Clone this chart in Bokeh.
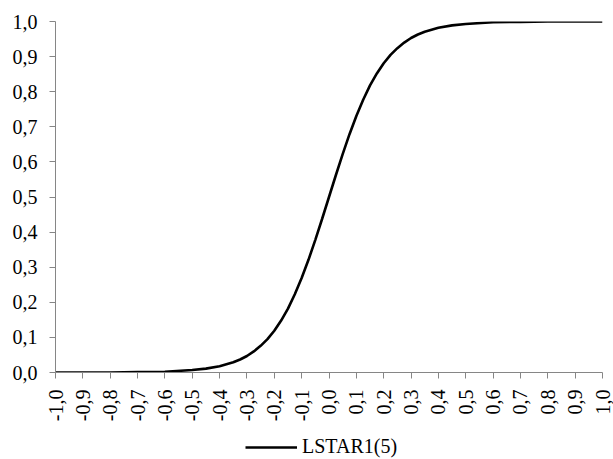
import math
from bokeh.plotting import figure
from bokeh.layouts import column
from bokeh.models import Range1d, FixedTicker, CustomJSTickFormatter, Legend, LegendItem
from bokeh.embed import file_html
from bokeh.resources import INLINE

# transition variable s and LSTAR1(5) transition function values
s_values = [-1.0, -0.9, -0.8, -0.7, -0.6, -0.5, -0.45, -0.4, -0.35, -0.325, -0.3,
            -0.275, -0.25, -0.225, -0.2, -0.175, -0.15, -0.125, -0.1, -0.075, -0.05,
            -0.025, 0.0, 0.025, 0.05, 0.075, 0.1, 0.125, 0.15, 0.175, 0.2, 0.225,
            0.25, 0.275, 0.3, 0.325, 0.35, 0.4, 0.45, 0.5, 0.6, 0.7, 0.8, 0.9, 1.0]
lstar_values = [0.000, 0.000, 0.000, 0.001, 0.002, 0.007, 0.011, 0.018, 0.029, 0.037, 0.047,
                0.060, 0.076, 0.095, 0.119, 0.148, 0.182, 0.223, 0.269, 0.321, 0.378,
                0.438, 0.500, 0.562, 0.622, 0.679, 0.731, 0.777, 0.818, 0.852, 0.881, 0.905,
                0.924, 0.940, 0.953, 0.963, 0.971, 0.982, 0.989, 0.993, 0.998, 0.999, 1.000, 1.000, 1.000]
series_name = "LSTAR1(5)"
x_ticks = [-1.0, -0.9, -0.8, -0.7, -0.6, -0.5, -0.4, -0.3, -0.2, -0.1, 0.0,
           0.1, 0.2, 0.3, 0.4, 0.5, 0.6, 0.7, 0.8, 0.9, 1.0]
y_ticks = [0.0, 0.1, 0.2, 0.3, 0.4, 0.5, 0.6, 0.7, 0.8, 0.9, 1.0]

FONT = "Liberation Serif"
AXIS_COLOR = "#868686"

p = figure(width=613, height=434, output_backend="svg", toolbar_location=None,
           x_range=Range1d(-1.0, 1.0), y_range=Range1d(0.0, 1.0),
           min_border_left=55, min_border_right=11, min_border_top=21, min_border_bottom=62)
p.outline_line_color = None
p.xgrid.visible = False
p.ygrid.visible = False
p.background_fill_color = "white"
p.border_fill_color = "white"

r = p.line(s_values, lstar_values, line_color="black", line_width=2.6)

fmt = CustomJSTickFormatter(code="return tick.toFixed(1).replace('-0.0','0.0').replace('.', ',');")
for ax, ticks in ((p.xaxis[0], x_ticks), (p.yaxis[0], y_ticks)):
    ax.ticker = FixedTicker(ticks=ticks, minor_ticks=[])
    ax.formatter = fmt
    ax.axis_line_color = AXIS_COLOR
    ax.major_tick_line_color = AXIS_COLOR
    ax.minor_tick_line_color = None
    ax.major_tick_out = 6
    ax.major_tick_in = 0
    ax.major_label_text_font = FONT
    ax.major_label_text_font_size = "20px"
    ax.major_label_text_color = "black"

p.yaxis[0].major_label_standoff = 12
p.xaxis[0].major_label_orientation = math.pi / 2
p.xaxis[0].major_label_standoff = 11

# legend strip below the chart (the sample line lies outside this strip's view)
q = figure(width=613, height=25, output_backend="svg", toolbar_location=None,
           x_axis_location=None, y_axis_location=None,
           x_range=Range1d(0, 1), y_range=Range1d(5, 6),
           min_border_left=0, min_border_right=0, min_border_top=0, min_border_bottom=0)
q.grid.visible = False
q.outline_line_color = None
q.border_fill_color = "white"
sample = q.line(s_values, lstar_values, line_color="black", line_width=2.6)
legend = Legend(items=[LegendItem(label=series_name, renderers=[sample])],
                location=(190, 1), orientation="horizontal",
                padding=0, margin=0, spacing=0,
                glyph_width=52, glyph_height=18, label_height=18, label_standoff=5,
                label_text_font=FONT, label_text_font_size="20px", label_text_color="black",
                border_line_alpha=0, background_fill_alpha=0)
q.add_layout(legend)

layout = column(p, q, spacing=0)
open("out.html", "w").write(file_html(layout, INLINE))
